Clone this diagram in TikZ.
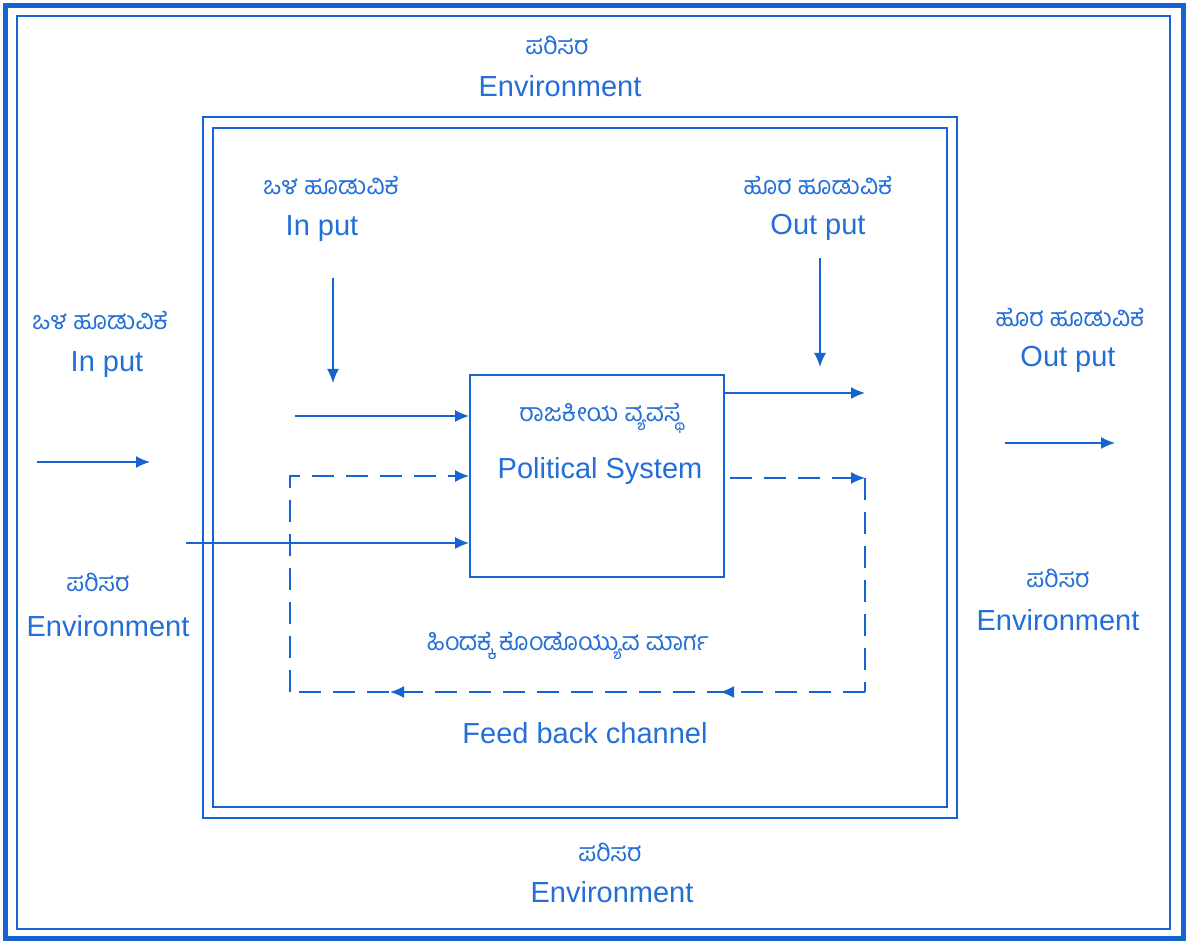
\documentclass[tikz,border=0pt]{standalone}
\usepackage{fontspec}
\setmainfont{Liberation Sans}
\newfontfamily\kn[Script=Kannada]{Hind Mysuru}
\usetikzlibrary{arrows.meta,decorations.markings}
\definecolor{bl}{RGB}{20,100,210}
\definecolor{tx}{RGB}{35,110,215}
\tikzset{
  arr/.style={draw=bl, line width=0.8pt, -{Latex[length=7pt,width=6pt]}},
  dsh/.style={draw=bl, line width=0.8pt, dash pattern=on 11pt off 6pt},
  entxt/.style={text=tx, font=\fontsize{14.5}{16}\selectfont, inner sep=0pt},
  kntxt/.style={text=tx, font=\kn\fontsize{12.5}{14}\selectfont, inner sep=0pt},
}
\begin{document}
\begin{tikzpicture}[x=0.5pt,y=-0.5pt]
\useasboundingbox (0,0) rectangle (1188,945);
% frames
\draw[bl, line width=2.5pt] (5,6) rectangle (1183,938);
\draw[bl, line width=1pt] (17,16) rectangle (1170,929);
\draw[bl, line width=1.2pt] (203,117) rectangle (957,818);
\draw[bl, line width=1.2pt] (213,128) rectangle (947,807);
% political system box
\node[draw=bl, line width=0.9pt, minimum width=127pt, minimum height=101pt, inner sep=0pt] (ps) at (597,476) {};
\node[kntxt] (psk) at (600,418) {ರಾಜಕೀಯ ವ್ಯವಸ್ಥೆ};
\node[entxt] (pse) at (600,471) {Political System};
% texts
\node[kntxt] (tk) at (557,45) {ಪರಿಸರ};
\node[entxt] (te) at (560,86) {Environment};
\node[kntxt] (bk) at (610,852) {ಪರಿಸರ};
\node[entxt] (be) at (612,892) {Environment};
\node[kntxt] (lk) at (98,582) {ಪರಿಸರ};
\node[entxt] (le) at (108,626) {Environment};
\node[kntxt] (rk) at (1058,578) {ಪರಿಸರ};
\node[entxt] (re) at (1058,620) {Environment};
\node[kntxt] (iik) at (331,186) {ಒಳ ಹೂಡುವಿಕೆ};
\node[entxt] (iie) at (322,229) {In put};
\node[kntxt] (iok) at (818,186) {ಹೊರ ಹೂಡುವಿಕೆ};
\node[entxt] (ioe) at (818,227) {Out put};
\node[kntxt] (oik) at (100,321) {ಒಳ ಹೂಡುವಿಕೆ};
\node[entxt] (oie) at (107,365) {In put};
\node[kntxt] (ook) at (1070,318) {ಹೊರ ಹೂಡುವಿಕೆ};
\node[entxt] (ooe) at (1068,359) {Out put};
\node[kntxt] (fbk) at (568,646) {ಹಿಂದಕ್ಕೆ ಕೊಂಡೊಯ್ಯುವ ಮಾರ್ಗ};
\node[entxt] (fbe) at (585,733) {Feed back channel};
% coordinates
\coordinate (inL1) at (37,462);
\coordinate (inL2) at (150,462);
\coordinate (inD1) at (333,278);
\coordinate (inD2) at (333,383);
\coordinate (inA) at (295,416);
\coordinate (inB) at (186,543);
\coordinate (outA) at (865,393);
\coordinate (outD1) at (820,258);
\coordinate (outD2) at (820,367);
\coordinate (outR1) at (1005,443);
\coordinate (outR2) at (1115,443);
\coordinate (fbS) at (730,478);
\coordinate (fbTR) at (865,478);
\coordinate (fbBR) at (865,692);
\coordinate (fbBL) at (290,692);
% arrows
\draw[arr] (inL1) -- (inL2);
\draw[arr] (inD1) -- (inD2);
\draw[arr] (inA) -- (inA -| ps.west);
\draw[arr] (inB) -- (inB -| ps.west);
\draw[arr] (outA -| ps.east) -- (outA);
\draw[arr] (outD1) -- (outD2);
\draw[arr] (outR1) -- (outR2);
% feedback
\draw[dsh, -{Latex[length=7pt,width=6pt]}] (fbS) -- (fbTR);
\draw[dsh] (fbTR) -- (fbBR);
\draw[dsh, postaction={decorate}, decoration={markings,
  mark=at position 0.252 with {\arrow{Latex[length=7pt,width=6pt]}},
  mark=at position 0.826 with {\arrow{Latex[length=7pt,width=6pt]}}}] (fbBR) -- (fbBL);
\draw[dsh, -{Latex[length=7pt,width=6pt]}] (fbBL) |- (ps.west);
\end{tikzpicture}
\end{document}
